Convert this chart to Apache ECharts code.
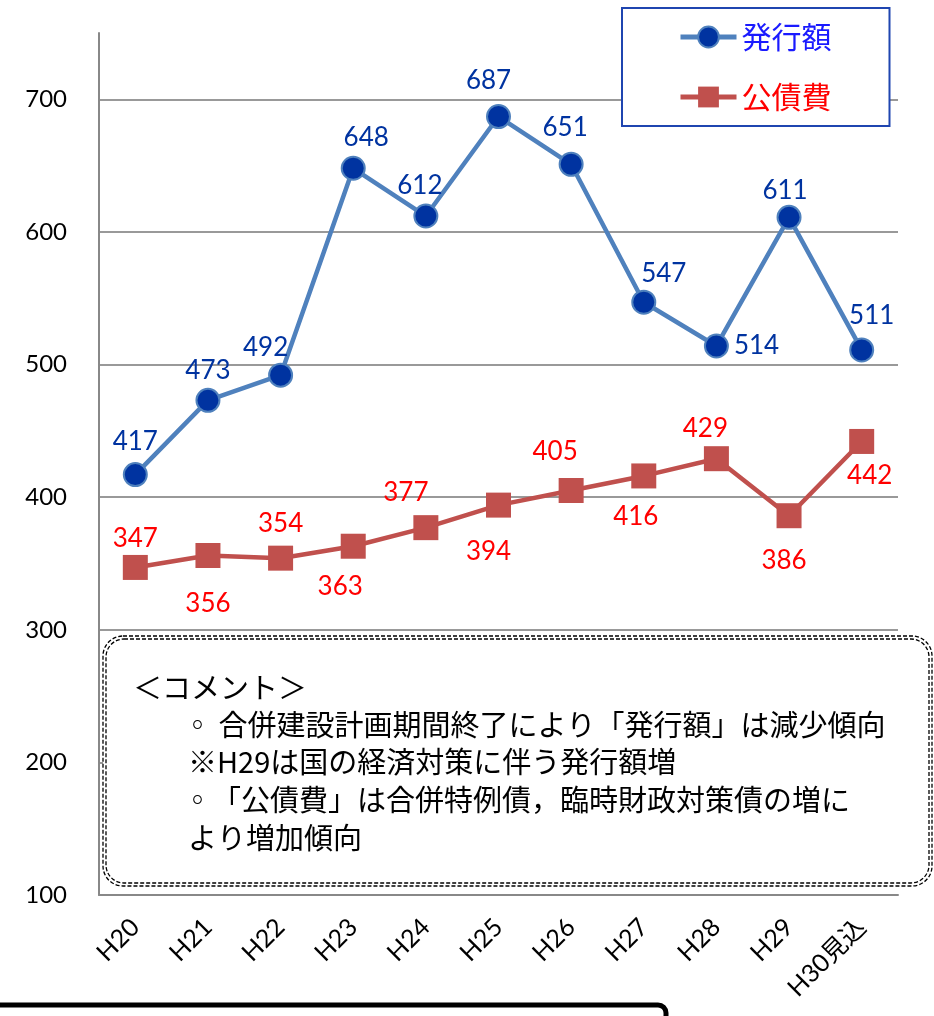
<!DOCTYPE html>
<html>
<head>
<meta charset="utf-8">
<script src="https://cdn.jsdelivr.net/npm/echarts@6/dist/echarts.min.js"></script>
<style>
  html, body { margin: 0; padding: 0; background: #fff; }
  #chart { width: 934px; height: 1016px; }
</style>
</head>
<body>
<div id="chart"></div>
<script>
var categories = ['H20', 'H21', 'H22', 'H23', 'H24', 'H25', 'H26', 'H27', 'H28', 'H29', 'H30見込'];
var issueAmount = [417, 473, 492, 648, 612, 687, 651, 547, 514, 611, 511];
var debtService = [347, 356, 354, 363, 377, 394, 405, 416, 429, 386, 442];
var yTicks = [100, 200, 300, 400, 500, 600, 700];

var commentLines = [
  '＜コメント＞',
  '◦ 合併建設計画期間終了により「発行額」は減少傾向',
  '※H29は国の経済対策に伴う発行額増',
  '◦「公債費」は合併特例債，臨時財政対策債の増に',
  'より増加傾向'
];

// label placement (style only)
var bluePos = ['top', 'top', 'top', 'top', 'top', 'top', 'top', 'top', 'right', 'top', 'top'];
var blueOff = [[0, -2], [0, 1], [-15, 3], [13, 0], [-6, 0], [-10, -5], [-6, -6], [20, 2], [0, 0], [-4, 4], [10, -4]];
var redPos = ['top', 'bottom', 'top', 'bottom', 'top', 'bottom', 'top', 'bottom', 'top', 'bottom', 'bottom'];
var redOff = [[0, 2], [0, 18], [0, -4], [-13, 10], [-20, -5], [-10, 16], [-16, -8], [-8, 10], [-11, 0], [-5, 14], [8, 4]];

var FONT = 'Lato, "Noto Sans CJK JP", sans-serif';
var JP = '"Noto Sans CJK JP", sans-serif';

function withLabels(values, pos, off) {
  return values.map(function (v, i) {
    return { value: v, label: { position: pos[i], offset: off[i] } };
  });
}

var myChart = echarts.init(document.getElementById('chart'));

var graphics = [
  {
    type: 'rect', z: 100,
    shape: { x: 103, y: 636, width: 829, height: 250, r: 20 },
    style: { fill: '#fff', stroke: '#000', lineWidth: 1.3, lineDash: [4, 2] }
  },
  {
    type: 'rect', z: 101,
    shape: { x: 106, y: 639, width: 823, height: 244, r: 18 },
    style: { fill: 'none', stroke: '#000', lineWidth: 1.3, lineDash: [4, 2] }
  },
  {
    type: 'rect', z: 100,
    shape: { x: -10, y: 1005, width: 676, height: 40, r: 8 },
    style: { fill: '#fff', stroke: '#000', lineWidth: 5 }
  }
];
var textPos = [[133, 688], [183, 725], [188, 762], [183, 800], [188, 838]];
commentLines.forEach(function (t, i) {
  graphics.push({
    type: 'text', z: 102,
    x: textPos[i][0], y: textPos[i][1],
    style: { text: t, font: '29px ' + JP, fill: '#000', verticalAlign: 'middle' }
  });
});

var option = {
  backgroundColor: '#fff',
  textStyle: { fontFamily: FONT },
  animation: false,
  grid: { left: 99, right: 36, top: 33, bottom: 121, containLabel: false },
  legend: {
    orient: 'vertical',
    left: 622,
    top: 8,
    padding: [14, 58, 14, 56],
    itemGap: 30,
    itemWidth: 56,
    itemHeight: 26,
    backgroundColor: '#fff',
    borderColor: '#1f45b0',
    borderWidth: 2,
    z: 50,
    lineStyle: { width: 5 },
    textStyle: { fontSize: 30, fontFamily: JP },
    data: [
      { name: '発行額', textStyle: { color: '#1a1aff' } },
      { name: '公債費', textStyle: { color: '#ff0000' } }
    ]
  },
  xAxis: {
    type: 'category',
    data: categories,
    boundaryGap: true,
    axisLine: { lineStyle: { color: '#888', width: 2 } },
    axisTick: { show: false },
    axisLabel: { rotate: 45, fontSize: 25, color: '#000', margin: 28, fontFamily: FONT }
  },
  yAxis: {
    type: 'value',
    min: 100,
    max: 750,
    interval: 100,
    axisLine: { show: true, lineStyle: { color: '#888', width: 2 } },
    axisTick: { show: false },
    axisLabel: {
      fontSize: 24, color: '#000', margin: 32, fontFamily: FONT,
      formatter: function (v) { return yTicks.indexOf(v) >= 0 ? String(v) : ''; }
    },
    splitLine: { show: true, showMaxLine: false, lineStyle: { color: '#999', width: 2 } }
  },
  series: [
    {
      name: '発行額',
      type: 'line',
      data: withLabels(issueAmount, bluePos, blueOff),
      symbol: 'circle',
      symbolSize: 23,
      lineStyle: { color: '#4f81bd', width: 4.5 },
      itemStyle: { color: '#0033a0', borderColor: '#4f81bd', borderWidth: 2 },
      label: { show: true, fontSize: 26, color: '#0033a0', fontFamily: FONT },
      z: 3
    },
    {
      name: '公債費',
      type: 'line',
      data: withLabels(debtService, redPos, redOff),
      symbol: 'rect',
      symbolSize: 25,
      lineStyle: { color: '#c0504d', width: 4.5 },
      itemStyle: { color: '#c0504d' },
      label: { show: true, fontSize: 26, color: '#ff0000', fontFamily: FONT },
      z: 3
    }
  ],
  graphic: graphics
};

myChart.setOption(option, true);
</script>
</body>
</html>
